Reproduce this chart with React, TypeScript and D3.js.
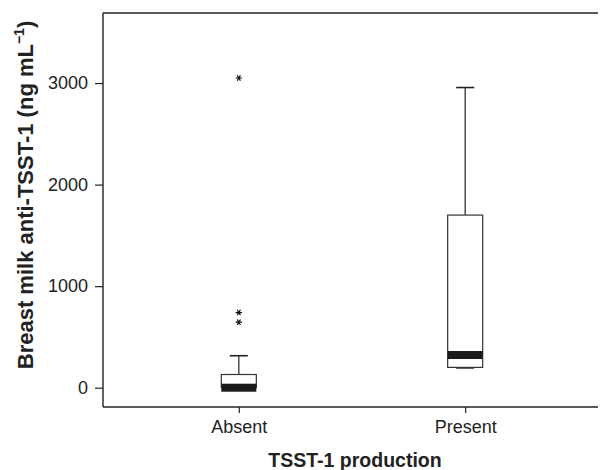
import * as d3 from "d3";
import React, { useRef, useEffect } from "react";

const mainWidth = 601;
const mainHeight = 470;
const margin = { top: 13, right: 0, bottom: 63, left: 103 };
const width = mainWidth - margin.left - margin.right;
const height = mainHeight - margin.top - margin.bottom;

// box summaries (ng/mL)
const groups = ["Absent", "Present"];
const q1 = [0, 200];
const medians = [0, 322];
const q3 = [130, 1700];
const whiskerLow = [0, 195];
const whiskerHigh = [315, 2956];
const outliers = [[645, 740, 3050], []];
const yTicks = [0, 1000, 2000, 3000];

const font = "'Liberation Sans', Arial, Helvetica, sans-serif";

function App() {
  const ref = useRef<SVGSVGElement>(null);

  useEffect(() => {
    const svg = d3.select(ref.current);
    svg.selectAll("*").remove();

    const x = d3.scalePoint().domain(groups).range([0, width]).padding(0.6);
    const y = d3.scaleLinear().domain([-190, 3690]).range([height, 0]);

    const g = svg
      .append("g")
      .attr("transform", `translate(${margin.left},${margin.top})`);

    // frame: top, left and bottom lines only (runs off the right edge)
    const frame = g.append("g").attr("stroke", "#222").attr("stroke-width", 1.4);
    frame.append("line").attr("x1", 0).attr("x2", width - 3).attr("y1", 0).attr("y2", 0);
    frame.append("line").attr("x1", 0).attr("x2", width - 3).attr("y1", height).attr("y2", height);
    frame.append("line").attr("x1", 0).attr("x2", 0).attr("y1", 0).attr("y2", height);

    // y axis
    const yAxis = g
      .append("g")
      .call(d3.axisLeft(y).tickValues(yTicks).tickFormat(d3.format("d")).tickSize(8).tickSizeOuter(0));
    yAxis.select(".domain").remove();
    yAxis.selectAll("line").attr("stroke", "#222").attr("stroke-width", 1.2);
    yAxis
      .selectAll("text")
      .attr("font-family", font)
      .attr("font-size", 18)
      .attr("fill", "#222")
      .attr("x", -15);

    // x axis
    const xAxis = g
      .append("g")
      .attr("transform", `translate(0,${height})`)
      .call(d3.axisBottom(x).tickSize(6).tickSizeOuter(0));
    xAxis.select(".domain").remove();
    xAxis.selectAll("line").attr("stroke", "#222").attr("stroke-width", 1.2);
    xAxis
      .selectAll("text")
      .attr("font-family", font)
      .attr("font-size", 18)
      .attr("fill", "#222")
      .attr("dy", null)
      .attr("y", 26);

    const boxW = 35;
    const capW = 18;
    const medianH = 8;

    const boxes = g
      .selectAll(".box")
      .data(groups)
      .join("g")
      .attr("class", "box")
      .attr("transform", (d) => `translate(${x(d)},0)`);

    // whisker stems
    boxes
      .append("line")
      .attr("y1", (_, i) => y(whiskerHigh[i]))
      .attr("y2", (_, i) => y(q3[i]))
      .attr("stroke", "#222")
      .attr("stroke-width", 1.2);
    boxes
      .append("line")
      .attr("y1", (_, i) => y(whiskerLow[i]))
      .attr("y2", (_, i) => y(q1[i]))
      .attr("stroke", "#222")
      .attr("stroke-width", 1.2);

    // caps
    boxes
      .append("line")
      .attr("x1", -capW / 2)
      .attr("x2", capW / 2)
      .attr("y1", (_, i) => y(whiskerHigh[i]))
      .attr("y2", (_, i) => y(whiskerHigh[i]))
      .attr("stroke", "#222")
      .attr("stroke-width", 1.6);
    boxes
      .filter((d) => whiskerLow[groups.indexOf(d)] !== medians[groups.indexOf(d)])
      .append("line")
      .attr("x1", -capW / 2)
      .attr("x2", capW / 2)
      .attr("y1", (d) => y(whiskerLow[groups.indexOf(d)]))
      .attr("y2", (d) => y(whiskerLow[groups.indexOf(d)]))
      .attr("stroke", "#222")
      .attr("stroke-width", 1.6);

    // box
    boxes
      .append("rect")
      .attr("x", -boxW / 2)
      .attr("width", boxW)
      .attr("y", (_, i) => y(q3[i]))
      .attr("height", (_, i) => y(q1[i]) - y(q3[i]))
      .attr("fill", "white")
      .attr("stroke", "#333")
      .attr("stroke-width", 1.2);

    // thick median band
    boxes
      .append("rect")
      .attr("x", -boxW / 2)
      .attr("width", boxW)
      .attr("y", (_, i) => y(medians[i]) - medianH / 2)
      .attr("height", medianH)
      .attr("fill", "#1a1a1a");

    // outliers as asterisks
    const star = d3.symbol(d3.symbolAsterisk, 28);
    boxes
      .selectAll(".out")
      .data((_, i) => outliers[i])
      .join("path")
      .attr("class", "out")
      .attr("d", star)
      .attr("transform", (d) => `translate(0,${y(d)}) rotate(90)`)
      .attr("fill", "none")
      .attr("stroke", "#111")
      .attr("stroke-width", 1.2);

    // axis titles
    svg
      .append("text")
      .attr("x", margin.left + width / 2 + 3)
      .attr("y", 466.5)
      .attr("text-anchor", "middle")
      .attr("font-family", font)
      .attr("font-weight", "bold")
      .attr("font-size", 19.5)
      .attr("fill", "#222")
      .text("TSST-1 production");

    const yt = svg
      .append("text")
      .attr("transform", `translate(32.5,195) rotate(-90)`)
      .attr("text-anchor", "middle")
      .attr("font-family", font)
      .attr("font-weight", "bold")
      .attr("font-size", 22)
      .attr("fill", "#222");
    yt.append("tspan").text("Breast milk anti-TSST-1 (ng mL");
    yt.append("tspan").attr("dy", -9).attr("font-size", 14).text("\u22121");
    yt.append("tspan").attr("dy", 9).text(")");
  }, []);

  return (
    <svg
      ref={ref}
      width={mainWidth}
      height={mainHeight}
      style={{ position: "absolute", left: 0, top: 0, background: "white" }}
    ></svg>
  );
}

export default App;
